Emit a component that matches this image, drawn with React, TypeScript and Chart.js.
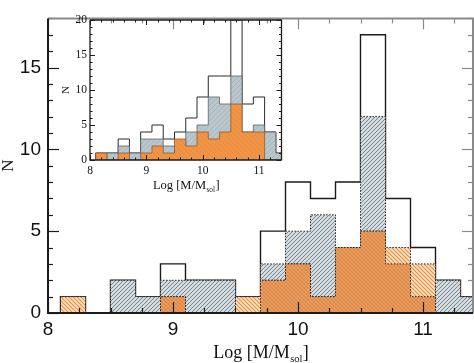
import React, { useEffect, useRef } from 'react';
import { Chart, registerables } from 'chart.js';

Chart.register(...registerables);

// ---------- data ----------
// histogram bin edges (bin width 0.2 in Log M)
const binEdges = [8.1, 8.3, 8.5, 8.7, 8.9, 9.1, 9.3, 9.5, 9.7, 9.9, 10.1, 10.3, 10.5, 10.7, 10.9, 11.1, 11.3, 11.5];

// main panel
const mainTotal = [1, 0, 2, 1, 3, 2, 2, 1, 5, 8, 7, 8, 17, 7, 4, 2, 1];
const mainGray = [0, 0, 2, 1, 2, 2, 2, 0, 3, 5, 6, 4, 12, 3, 1, 2, 1];
const mainOrange = [1, 0, 0, 0, 1, 0, 0, 1, 2, 3, 1, 4, 5, 4, 3, 0, 0];

// inset panel
const insetTotal = [1, 1, 3, 1, 4, 5, 3, 4, 6, 9, 12, 12, 20, 8, 9, 4, 1];
const insetGray = [0, 1, 2, 1, 3, 3, 2, 1, 4, 5, 9, 8, 12, 4, 5, 4, 1];
const insetOrange = [1, 0, 1, 0, 1, 2, 1, 3, 2, 4, 3, 4, 8, 4, 4, 0, 0];

// ticks / labels
const xTickValues = [8, 9, 10, 11];
const xTickLabels = ['8', '9', '10', '11'];
const mainYTickValues = [0, 5, 10, 15];
const mainYTickLabels = ['0', '5', '10', '15'];
const insetYTickValues = [0, 5, 10, 15, 20];
const insetYTickLabels = ['0', '5', '10', '15', '20'];
const xTitleMain = 'Log [M/M';
const xTitleSub = 'sol';
const xTitleEnd = ']';
const yTitle = 'N';

const SERIF = "'Liberation Serif', 'Times New Roman', serif";
const SANS_NARROW = "'Liberation Sans Narrow', 'Liberation Sans', Arial, sans-serif";

function stepPoints(values: number[]) {
  const n = values.length;
  const pts: { x: number; y: number }[] = [{ x: binEdges[0], y: 0 }];
  values.forEach((v, i) => pts.push({ x: binEdges[i], y: v }));
  pts.push({ x: binEdges[n], y: values[n - 1] });
  pts.push({ x: binEdges[n], y: 0 });
  return pts;
}

function makeHatch(
  ctx: CanvasRenderingContext2D,
  bg: string | null,
  lines: { color: string; dir: number; width: number }[],
  size: number
) {
  const c = document.createElement('canvas');
  c.width = size;
  c.height = size;
  const g = c.getContext('2d')!;
  if (bg) {
    g.fillStyle = bg;
    g.fillRect(0, 0, size, size);
  }
  for (const l of lines) {
    g.strokeStyle = l.color;
    g.lineWidth = l.width;
    g.beginPath();
    if (l.dir > 0) {
      g.moveTo(-1, size + 1);
      g.lineTo(size + 1, -1);
      g.moveTo(-2, 2);
      g.lineTo(2, -2);
      g.moveTo(size - 2, size + 2);
      g.lineTo(size + 2, size - 2);
    } else {
      g.moveTo(-1, -1);
      g.lineTo(size + 1, size + 1);
      g.moveTo(-2, size - 2);
      g.lineTo(2, size + 2);
      g.moveTo(size - 2, -2);
      g.lineTo(size + 2, 2);
    }
    g.stroke();
  }
  return ctx.createPattern(c, 'repeat')!;
}

function drawSubTitle(ctx: CanvasRenderingContext2D, cx: number, baseY: number, size: number, color: string) {
  const sub = size * 0.58;
  ctx.save();
  ctx.fillStyle = color;
  ctx.textBaseline = 'alphabetic';
  ctx.textAlign = 'left';
  ctx.font = `${size}px ${SERIF}`;
  const w1 = ctx.measureText(xTitleMain).width;
  const w3 = ctx.measureText(xTitleEnd).width;
  ctx.font = `${sub}px ${SERIF}`;
  const w2 = ctx.measureText(xTitleSub).width;
  let x = cx - (w1 + w2 + w3) / 2;
  ctx.font = `${size}px ${SERIF}`;
  ctx.fillText(xTitleMain, x, baseY);
  x += w1;
  ctx.font = `${sub}px ${SERIF}`;
  ctx.fillText(xTitleSub, x + 0.5, baseY + size * 0.22);
  x += w2 + 1;
  ctx.font = `${size}px ${SERIF}`;
  ctx.fillText(xTitleEnd, x, baseY);
  ctx.restore();
}

type FrameOpts = {
  xMinorStep: number;
  yMinorStep: number;
  majorLen: number;
  minorLen: number;
  axisWidth: number;
  lbColor: string;
  trColor: string;
  tickWidth: number;
  titleSize: number;
  titleBase: number;
};

function framePlugin(id: string, o: FrameOpts) {
  return {
    id,
    afterDatasetsDraw(chart: any) {
      const ctx: CanvasRenderingContext2D = chart.ctx;
      const { left, right, top, bottom } = chart.chartArea;
      const xs = chart.scales.x;
      const ys = chart.scales.y;
      ctx.save();
      ctx.lineCap = 'butt';
      const xMin = xs.min, xMax = xs.max, yMin = ys.min, yMax = ys.max;
      const eps = 1e-6;
      for (let v = Math.ceil(xMin / o.xMinorStep - eps) * o.xMinorStep; v <= xMax + eps; v += o.xMinorStep) {
        const isMajor = Math.abs(v - Math.round(v)) < 1e-6;
        const len = isMajor ? o.majorLen : o.minorLen;
        const px = Math.round(xs.getPixelForValue(v)) + 0.5;
        ctx.lineWidth = o.tickWidth;
        ctx.strokeStyle = o.lbColor;
        ctx.beginPath();
        ctx.moveTo(px, bottom);
        ctx.lineTo(px, bottom - len);
        ctx.stroke();
        ctx.strokeStyle = o.trColor;
        ctx.beginPath();
        ctx.moveTo(px, top);
        ctx.lineTo(px, top + len);
        ctx.stroke();
      }
      for (let v = Math.ceil(yMin / o.yMinorStep - eps) * o.yMinorStep; v <= yMax + eps; v += o.yMinorStep) {
        const isMajor = Math.abs(v / 5 - Math.round(v / 5)) < 1e-6;
        const len = isMajor ? o.majorLen : o.minorLen;
        const py = Math.round(ys.getPixelForValue(v)) + 0.5;
        ctx.lineWidth = o.tickWidth;
        ctx.strokeStyle = o.lbColor;
        ctx.beginPath();
        ctx.moveTo(left, py);
        ctx.lineTo(left + len, py);
        ctx.stroke();
        ctx.strokeStyle = o.trColor;
        ctx.beginPath();
        ctx.moveTo(right, py);
        ctx.lineTo(right - len, py);
        ctx.stroke();
      }
      ctx.lineWidth = o.axisWidth;
      ctx.strokeStyle = o.trColor;
      ctx.beginPath();
      ctx.moveTo(left, top);
      ctx.lineTo(right, top);
      ctx.lineTo(right, bottom);
      ctx.stroke();
      ctx.strokeStyle = o.lbColor;
      ctx.beginPath();
      ctx.moveTo(left, top);
      ctx.lineTo(left, bottom);
      ctx.lineTo(right, bottom);
      ctx.stroke();
      ctx.restore();
      drawSubTitle(ctx, (left + right) / 2, o.titleBase, o.titleSize, '#111');
    },
  };
}

function MainChart() {
  const ref = useRef<HTMLCanvasElement>(null);
  useEffect(() => {
    const canvas = ref.current!;
    const ctx = canvas.getContext('2d')!;
    const grayPat = makeHatch(ctx, '#d2dbdf', [{ color: '#5e6a72', dir: 1, width: 0.75 }], 4);
    const orangePat = makeHatch(ctx, '#fde6d0', [{ color: '#ef8c38', dir: -1, width: 1.2 }], 4);
    const densePat = makeHatch(
      ctx,
      '#eda263',
      [
        { color: '#d27a34', dir: -1, width: 0.8 },
        { color: '#c07442', dir: 1, width: 0.5 },
      ],
      4
    );
    const mainOverlap = mainGray.map((g, i) => Math.min(g, mainOrange[i]));
    const dotted = { borderColor: '#2b2520', borderWidth: 1, borderDash: [1.5, 1.5] };
    const chart = new Chart(canvas, {
      type: 'line',
      data: {
        datasets: [
          {
            label: 'all',
            data: stepPoints(mainTotal),
            stepped: true,
            borderColor: '#1a1a1a',
            borderWidth: 1.4,
            fill: false,
            pointRadius: 0,
            order: 4,
          },
          {
            label: 'gray',
            data: stepPoints(mainGray),
            stepped: true,
            backgroundColor: grayPat,
            fill: 'origin',
            pointRadius: 0,
            order: 3,
            ...dotted,
          },
          {
            label: 'orange',
            data: stepPoints(mainOrange),
            stepped: true,
            backgroundColor: orangePat,
            fill: 'origin',
            pointRadius: 0,
            order: 2,
            ...dotted,
          },
          {
            label: 'both',
            data: stepPoints(mainOverlap),
            stepped: true,
            backgroundColor: densePat,
            fill: 'origin',
            pointRadius: 0,
            order: 1,
            ...dotted,
          },
        ] as any,
      },
      options: {
        responsive: false,
        animation: false,
        devicePixelRatio: 1,
        layout: { padding: { left: 0, right: 1, top: 1, bottom: 0 }, autoPadding: false } as any,
        plugins: { legend: { display: false }, tooltip: { enabled: false } },
        scales: {
          x: {
            type: 'linear',
            min: 8,
            max: 11.4,
            afterBuildTicks: (s: any) => {
              s.ticks = xTickValues.map((v) => ({ value: v }));
            },
            afterFit: (s: any) => {
              s.height = 50;
            },
            grid: { display: false, drawTicks: false },
            border: { display: false },
            ticks: {
              callback: (_v: any, i: number) => xTickLabels[i],
              font: { family: SANS_NARROW, size: 19 },
              color: '#111',
              padding: 5,
              maxRotation: 0,
              autoSkip: false,
            },
          },
          y: {
            type: 'linear',
            min: 0,
            max: 18,
            afterBuildTicks: (s: any) => {
              s.ticks = mainYTickValues.map((v) => ({ value: v }));
            },
            afterFit: (s: any) => {
              s.width = 48;
            },
            grid: { display: false, drawTicks: false },
            border: { display: false },
            title: {
              display: true,
              text: yTitle,
              color: '#111',
              font: { family: SERIF, size: 17, lineHeight: 1 },
              padding: { top: 0, bottom: 0 },
            },
            ticks: {
              callback: (_v: any, i: number) => mainYTickLabels[i],
              font: { family: SANS_NARROW, size: 19 },
              color: '#111',
              padding: 7,
            },
          },
        },
      } as any,
      plugins: [
        framePlugin('mainFrame', {
          xMinorStep: 0.25,
          yMinorStep: 1,
          majorLen: 11,
          minorLen: 5,
          axisWidth: 2,
          lbColor: '#1c1c1c',
          trColor: '#8a8a8a',
          tickWidth: 1.2,
          titleSize: 18,
          titleBase: 358,
        }) as any,
      ],
    });
    return () => chart.destroy();
  }, []);
  return <canvas ref={ref} width={474} height={363} style={{ position: 'absolute', left: 0, top: 0 }} />;
}

function InsetChart() {
  const ref = useRef<HTMLCanvasElement>(null);
  useEffect(() => {
    const canvas = ref.current!;
    const ctx = canvas.getContext('2d')!;
    const grayFill = makeHatch(ctx, '#b9c6cb', [{ color: '#a8b6bb', dir: 1, width: 1 }], 5);
    const orangeFill = makeHatch(ctx, '#f09446', [{ color: '#ea8a3a', dir: -1, width: 1 }], 5);
    const chart = new Chart(canvas, {
      type: 'line',
      data: {
        datasets: [
          {
            label: 'all',
            data: stepPoints(insetTotal),
            stepped: true,
            borderColor: '#2a2a2a',
            borderWidth: 1,
            backgroundColor: '#ffffff',
            fill: 'origin',
            pointRadius: 0,
            order: 3,
          },
          {
            label: 'gray',
            data: stepPoints(insetGray),
            stepped: true,
            borderColor: '#5a6166',
            borderWidth: 0.8,
            backgroundColor: grayFill,
            fill: 'origin',
            pointRadius: 0,
            order: 2,
          },
          {
            label: 'orange',
            data: stepPoints(insetOrange),
            stepped: true,
            borderColor: '#8a5a36',
            borderWidth: 0.8,
            backgroundColor: orangeFill,
            fill: 'origin',
            pointRadius: 0,
            order: 1,
          },
        ] as any,
      },
      options: {
        responsive: false,
        animation: false,
        devicePixelRatio: 1,
        layout: { padding: { left: 55, right: 192.5, top: 20, bottom: 173 }, autoPadding: false } as any,
        plugins: { legend: { display: false }, tooltip: { enabled: false } },
        scales: {
          x: {
            type: 'linear',
            min: 8,
            max: 11.4,
            afterBuildTicks: (s: any) => {
              s.ticks = xTickValues.map((v) => ({ value: v }));
            },
            afterFit: (s: any) => {
              s.height = 30;
            },
            grid: { display: false, drawTicks: false },
            border: { display: false },
            ticks: {
              callback: (_v: any, i: number) => xTickLabels[i],
              font: { family: SERIF, size: 11.5 },
              color: '#111',
              padding: 4,
              maxRotation: 0,
              autoSkip: false,
            },
          },
          y: {
            type: 'linear',
            min: 0,
            max: 20,
            afterBuildTicks: (s: any) => {
              s.ticks = insetYTickValues.map((v) => ({ value: v }));
            },
            afterFit: (s: any) => {
              s.width = 35;
            },
            grid: { display: false, drawTicks: false },
            border: { display: false },
            title: {
              display: true,
              text: yTitle,
              color: '#111',
              font: { family: SERIF, size: 11, lineHeight: 1 },
              padding: { top: 5.5, bottom: 0 },
            },
            ticks: {
              callback: (_v: any, i: number) => insetYTickLabels[i],
              font: { family: SERIF, size: 11.5 },
              color: '#111',
              padding: 3,
            },
          },
        },
      } as any,
      plugins: [
        framePlugin('insetFrame', {
          xMinorStep: 0.2,
          yMinorStep: 1,
          majorLen: 5,
          minorLen: 2.5,
          axisWidth: 1.3,
          lbColor: '#1c1c1c',
          trColor: '#1c1c1c',
          tickWidth: 1,
          titleSize: 12.5,
          titleBase: 189,
        }) as any,
      ],
    });
    return () => chart.destroy();
  }, []);
  return <canvas ref={ref} width={474} height={363} style={{ position: 'absolute', left: 0, top: 0 }} />;
}

export default function App() {
  return (
    <div style={{ position: 'absolute', left: 0, top: 0, width: 474, height: 363, background: '#ffffff', overflow: 'hidden' }}>
      <MainChart />
      <InsetChart />
    </div>
  );
}
